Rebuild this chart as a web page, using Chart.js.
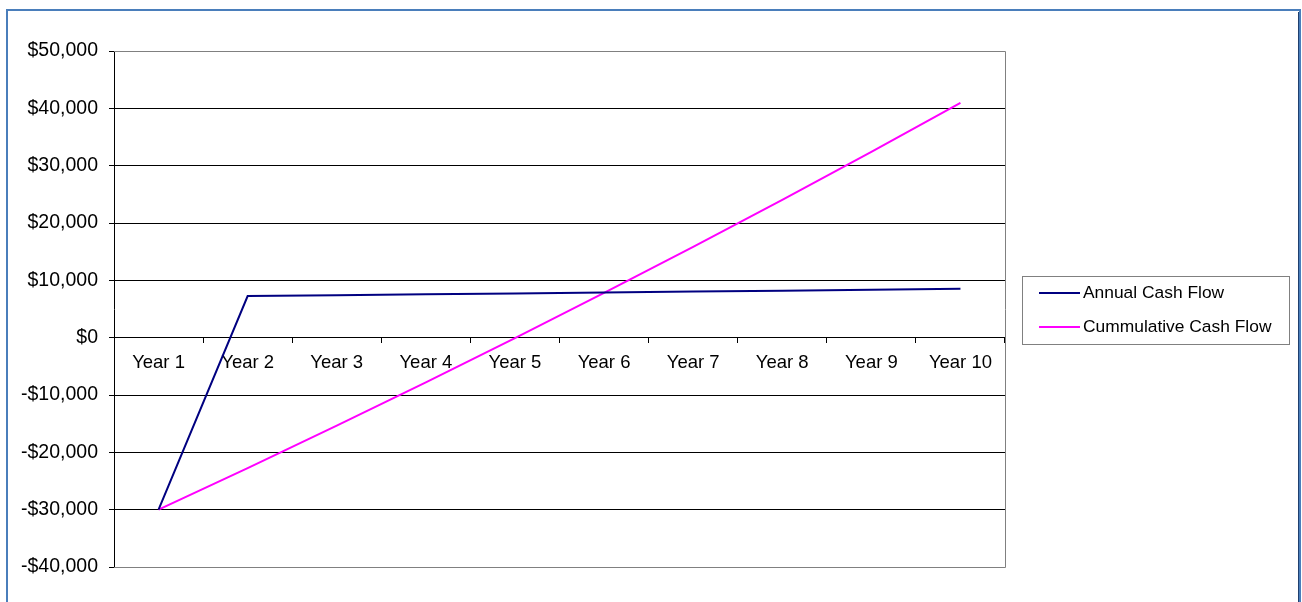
<!DOCTYPE html>
<html>
<head>
<meta charset="utf-8">
<script src="https://cdn.jsdelivr.net/npm/chart.js@4"></script>
<style>
    body { margin: 0; background: #fff; }
    canvas { display: block; }
</style>
</head>
<body>
<canvas id="cashChart" width="1302" height="602"></canvas>
<script>
// Cash flow projection, years 1 to 10
const years = ['Year 1', 'Year 2', 'Year 3', 'Year 4', 'Year 5', 'Year 6', 'Year 7', 'Year 8', 'Year 9', 'Year 10'];
const annualCashFlow = [-30000, 7250, 7400, 7560, 7720, 7880, 8040, 8200, 8370, 8540];
const cumulativeCashFlow = [-30000, -22750, -15350, -7790, -70, 7810, 15850, 24050, 32420, 40960];
const yTicks = [-40000, -30000, -20000, -10000, 0, 10000, 20000, 30000, 40000, 50000];

const FONT = 'Arial, "Liberation Sans", sans-serif';

function money(v) {
    const s = '$' + Math.abs(v).toLocaleString('en-US');
    return v < 0 ? '-' + s : s;
}

// outer frame, grey plot border and the boxed legend on the right
const excelLook = {
    id: 'excelLook',
    beforeDraw(chart) {
        const ctx = chart.ctx;
        ctx.save();
        ctx.fillStyle = '#fff';
        ctx.fillRect(0, 0, chart.width, chart.height);
        ctx.strokeStyle = '#4a7ebb';
        ctx.lineWidth = 2;
        ctx.strokeRect(7, 10, 1293, 620);
        ctx.strokeStyle = '#1f3f6e';
        ctx.lineWidth = 1;
        ctx.beginPath();
        ctx.moveTo(1298.5, 12);
        ctx.lineTo(1298.5, 602);
        ctx.stroke();
        ctx.restore();
    },
    afterDraw(chart) {
        const ctx = chart.ctx;
        const a = chart.chartArea;
        ctx.save();
        ctx.strokeStyle = '#808080';
        ctx.lineWidth = 1;
        ctx.beginPath();
        ctx.moveTo(a.left, a.top + 0.5);
        ctx.lineTo(a.right + 0.5, a.top + 0.5);
        ctx.lineTo(a.right + 0.5, a.bottom + 0.5);
        ctx.lineTo(a.left, a.bottom + 0.5);
        ctx.stroke();

        // legend
        ctx.strokeStyle = '#808080';
        ctx.strokeRect(1022.5, 276.5, 267, 68);
        ctx.font = '17.4px ' + FONT;
        ctx.textBaseline = 'middle';
        chart.data.datasets.forEach((ds, i) => {
            const y = 293 + i * 34;
            ctx.strokeStyle = ds.borderColor;
            ctx.lineWidth = 2;
            ctx.beginPath();
            ctx.moveTo(1039, y);
            ctx.lineTo(1080, y);
            ctx.stroke();
            ctx.fillStyle = '#000';
            ctx.fillText(ds.label, 1083, y);
        });
        ctx.restore();
    }
};

new Chart(document.getElementById('cashChart'), {
    type: 'line',
    data: {
        labels: years,
        datasets: [{
            label: 'Annual Cash Flow',
            data: annualCashFlow,
            borderColor: '#000080',
            borderWidth: 2,
            pointRadius: 0,
            tension: 0
        }, {
            label: 'Cummulative Cash Flow',
            data: cumulativeCashFlow,
            borderColor: '#ff00ff',
            borderWidth: 2,
            pointRadius: 0,
            tension: 0
        }]
    },
    options: {
        responsive: false,
        animation: false,
        layout: { padding: { left: 0, top: 51, right: 297, bottom: 35 } },
        plugins: {
            legend: { display: false },
            tooltip: { enabled: false }
        },
        scales: {
            x: {
                position: { y: 0 },
                offset: true,
                grid: {
                    offset: true,
                    drawOnChartArea: false,
                    drawTicks: true,
                    tickLength: 5,
                    tickColor: '#000'
                },
                border: { color: '#000', width: 1 },
                ticks: {
                    color: '#000',
                    padding: 9,
                    maxRotation: 0,
                    autoSkip: false,
                    font: { family: FONT, size: 18.5 }
                }
            },
            y: {
                min: -40000,
                max: 50000,
                afterFit(scale) { scale.width = 114; },
                afterBuildTicks(scale) {
                    scale.ticks = yTicks.map(v => ({ value: v }));
                },
                grid: {
                    color: ctx => (ctx.tick && (ctx.tick.value === 50000 || ctx.tick.value === -40000)) ? '#808080' : '#000',
                    tickColor: '#000',
                    tickLength: 5,
                    lineWidth: 1
                },
                border: { color: '#000', width: 1 },
                ticks: {
                    color: '#000',
                    padding: 11,
                    font: { family: FONT, size: 19.5 },
                    callback: v => money(v)
                }
            }
        }
    },
    plugins: [excelLook]
});
</script>
</body>
</html>
